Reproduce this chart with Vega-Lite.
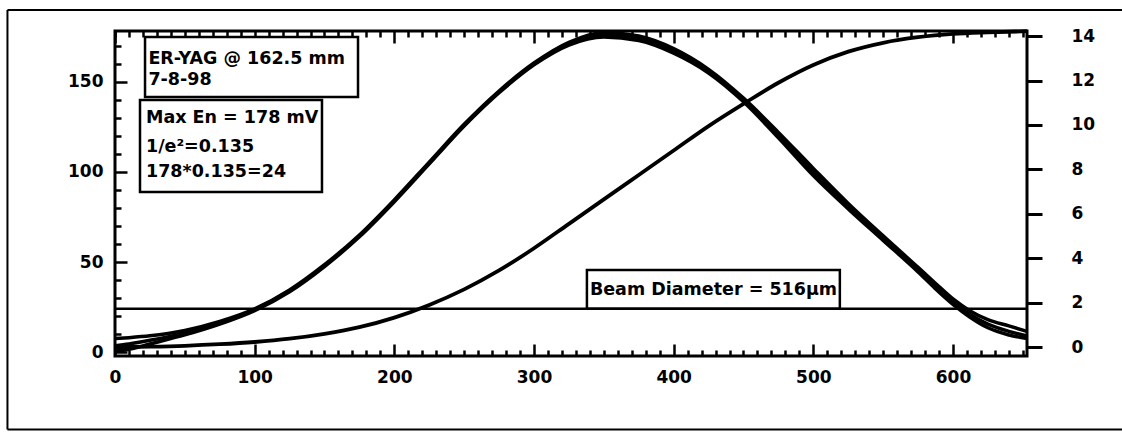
{
  "$schema": "https://vega.github.io/schema/vega-lite/v6.json",
  "width": 912,
  "height": 325,
  "autosize": {"type": "none"},
  "padding": {"left": 115, "top": 31, "right": 95, "bottom": 76},
  "background": "white",
  "config": {
    "view": {"stroke": "black", "strokeWidth": 3},
    "font": "DejaVu Sans",
    "axis": {"domain": false, "grid": false, "tickColor": "black", "tickWidth": 2.5, "labelColor": "black", "labelFont": "DejaVu Sans", "labelFontWeight": "bold", "labelFontSize": 17, "labelFlush": false, "title": null}
  },
  "data": {"values": [{}]},
  "datasets": {
    "gauss": [
      {"x": 0, "trace": "T1", "v": 7.5}, {"x": 10, "trace": "T1", "v": 8}, {"x": 25, "trace": "T1", "v": 9}, {"x": 50, "trace": "T1", "v": 12}, {"x": 75, "trace": "T1", "v": 17}, {"x": 100, "trace": "T1", "v": 24}, {"x": 125, "trace": "T1", "v": 34.5}, {"x": 150, "trace": "T1", "v": 48.5}, {"x": 175, "trace": "T1", "v": 65}, {"x": 200, "trace": "T1", "v": 84.5}, {"x": 225, "trace": "T1", "v": 105.5}, {"x": 250, "trace": "T1", "v": 126.5}, {"x": 275, "trace": "T1", "v": 145}, {"x": 300, "trace": "T1", "v": 160.5}, {"x": 325, "trace": "T1", "v": 172}, {"x": 350, "trace": "T1", "v": 177.5}, {"x": 375, "trace": "T1", "v": 175.5}, {"x": 400, "trace": "T1", "v": 168.5}, {"x": 425, "trace": "T1", "v": 157}, {"x": 450, "trace": "T1", "v": 141}, {"x": 475, "trace": "T1", "v": 122}, {"x": 500, "trace": "T1", "v": 102}, {"x": 525, "trace": "T1", "v": 82.5}, {"x": 550, "trace": "T1", "v": 64.5}, {"x": 575, "trace": "T1", "v": 47}, {"x": 587, "trace": "T1", "v": 38.5}, {"x": 600, "trace": "T1", "v": 29.5}, {"x": 612, "trace": "T1", "v": 23}, {"x": 625, "trace": "T1", "v": 18}, {"x": 640, "trace": "T1", "v": 14.5}, {"x": 653, "trace": "T1", "v": 11.5},
      {"x": 0, "trace": "T2", "v": 3.5}, {"x": 10, "trace": "T2", "v": 4.5}, {"x": 25, "trace": "T2", "v": 6.5}, {"x": 50, "trace": "T2", "v": 10.5}, {"x": 75, "trace": "T2", "v": 16}, {"x": 100, "trace": "T2", "v": 23.5}, {"x": 125, "trace": "T2", "v": 34}, {"x": 150, "trace": "T2", "v": 48}, {"x": 175, "trace": "T2", "v": 64.5}, {"x": 200, "trace": "T2", "v": 84}, {"x": 225, "trace": "T2", "v": 105}, {"x": 250, "trace": "T2", "v": 126}, {"x": 275, "trace": "T2", "v": 144.5}, {"x": 300, "trace": "T2", "v": 160}, {"x": 325, "trace": "T2", "v": 171.5}, {"x": 350, "trace": "T2", "v": 176}, {"x": 375, "trace": "T2", "v": 174.5}, {"x": 400, "trace": "T2", "v": 167.5}, {"x": 425, "trace": "T2", "v": 156}, {"x": 450, "trace": "T2", "v": 140}, {"x": 475, "trace": "T2", "v": 120.5}, {"x": 500, "trace": "T2", "v": 100}, {"x": 525, "trace": "T2", "v": 81}, {"x": 550, "trace": "T2", "v": 63}, {"x": 575, "trace": "T2", "v": 45.5}, {"x": 587, "trace": "T2", "v": 36.5}, {"x": 600, "trace": "T2", "v": 27.5}, {"x": 612, "trace": "T2", "v": 21}, {"x": 625, "trace": "T2", "v": 15.5}, {"x": 640, "trace": "T2", "v": 11.5}, {"x": 653, "trace": "T2", "v": 9},
      {"x": 0, "trace": "T3", "v": 0.5}, {"x": 10, "trace": "T3", "v": 1.5}, {"x": 25, "trace": "T3", "v": 4.5}, {"x": 50, "trace": "T3", "v": 9.5}, {"x": 75, "trace": "T3", "v": 15.5}, {"x": 100, "trace": "T3", "v": 23}, {"x": 125, "trace": "T3", "v": 33.5}, {"x": 150, "trace": "T3", "v": 47.5}, {"x": 175, "trace": "T3", "v": 64}, {"x": 200, "trace": "T3", "v": 83.5}, {"x": 225, "trace": "T3", "v": 104.5}, {"x": 250, "trace": "T3", "v": 125.5}, {"x": 275, "trace": "T3", "v": 144}, {"x": 300, "trace": "T3", "v": 159.5}, {"x": 325, "trace": "T3", "v": 170.5}, {"x": 350, "trace": "T3", "v": 175}, {"x": 375, "trace": "T3", "v": 173}, {"x": 400, "trace": "T3", "v": 166}, {"x": 425, "trace": "T3", "v": 155}, {"x": 450, "trace": "T3", "v": 139}, {"x": 475, "trace": "T3", "v": 119}, {"x": 500, "trace": "T3", "v": 98}, {"x": 525, "trace": "T3", "v": 79.5}, {"x": 550, "trace": "T3", "v": 62}, {"x": 575, "trace": "T3", "v": 44.5}, {"x": 587, "trace": "T3", "v": 35.5}, {"x": 600, "trace": "T3", "v": 26.5}, {"x": 612, "trace": "T3", "v": 19.5}, {"x": 625, "trace": "T3", "v": 13.5}, {"x": 640, "trace": "T3", "v": 9.5}, {"x": 653, "trace": "T3", "v": 7.5}
    ],
    "integral": [
      {"x": 0, "r": 0}, {"x": 25, "r": 0.02}, {"x": 50, "r": 0.06}, {"x": 75, "r": 0.13}, {"x": 100, "r": 0.23}, {"x": 125, "r": 0.38}, {"x": 150, "r": 0.6}, {"x": 175, "r": 0.9}, {"x": 200, "r": 1.33}, {"x": 225, "r": 1.9}, {"x": 250, "r": 2.6}, {"x": 275, "r": 3.45}, {"x": 300, "r": 4.45}, {"x": 325, "r": 5.55}, {"x": 350, "r": 6.65}, {"x": 375, "r": 7.75}, {"x": 400, "r": 8.85}, {"x": 425, "r": 9.95}, {"x": 450, "r": 10.95}, {"x": 475, "r": 11.9}, {"x": 500, "r": 12.7}, {"x": 525, "r": 13.3}, {"x": 550, "r": 13.7}, {"x": 575, "r": 13.95}, {"x": 600, "r": 14.1}, {"x": 625, "r": 14.17}, {"x": 653, "r": 14.22}
    ]
  },
  "layer": [
    {
      "mark": {"type": "rule", "color": "black", "strokeWidth": 2, "clip": false},
      "encoding": {
        "x": {"datum": -77, "type": "quantitative", "scale": {"domain": [0, 653], "nice": false, "zero": false},
          "axis": {"orient": "top", "values": [0,10,20,30,40,50,60,70,80,90,110,120,130,140,150,160,170,180,190,210,220,230,240,250,260,270,280,290,310,320,330,340,350,360,370,380,390,410,420,430,440,450,460,470,480,490,510,520,530,540,550,560,570,580,590,610,620,630,640,650], "tickSize": 6, "offset": -6, "labels": false}},
        "x2": {"datum": 780},
        "y": {"datum": 190, "type": "quantitative", "scale": {"domain": [-2.2, 178.3], "nice": false, "zero": false}, "axis": null}
      }
    },
    {
      "mark": {"type": "rule", "color": "black", "strokeWidth": 2, "clip": false},
      "encoding": {
        "x": {"datum": -77, "type": "quantitative", "scale": {"domain": [0, 653], "nice": false, "zero": false}, "axis": null},
        "x2": {"datum": 780},
        "y": {"datum": -43, "type": "quantitative", "scale": {"domain": [-2.2, 178.3], "nice": false, "zero": false}, "axis": null}
      }
    },
    {
      "mark": {"type": "rule", "color": "black", "strokeWidth": 2, "clip": false},
      "encoding": {
        "x": {"datum": -77, "type": "quantitative", "scale": {"domain": [0, 653], "nice": false, "zero": false}, "axis": null},
        "y": {"datum": 190, "type": "quantitative", "scale": {"domain": [-2.2, 178.3], "nice": false, "zero": false}, "axis": null},
        "y2": {"datum": -43}
      }
    },
    {
      "mark": {"type": "rect", "fill": "white", "stroke": "black", "strokeWidth": 2.5},
      "encoding": {
        "x": {"datum": 21.5, "type": "quantitative", "scale": {"domain": [0, 653], "nice": false, "zero": false}, "axis": null},
        "x2": {"datum": 174},
        "y": {"datum": 175, "type": "quantitative", "scale": {"domain": [-2.2, 178.3], "nice": false, "zero": false}, "axis": null},
        "y2": {"datum": 141.7}
      }
    },
    {
      "mark": {"type": "rect", "fill": "white", "stroke": "black", "strokeWidth": 2.5},
      "encoding": {
        "x": {"datum": 17.9, "type": "quantitative", "scale": {"domain": [0, 653], "nice": false, "zero": false}, "axis": null},
        "x2": {"datum": 148.2},
        "y": {"datum": 140, "type": "quantitative", "scale": {"domain": [-2.2, 178.3], "nice": false, "zero": false}, "axis": null},
        "y2": {"datum": 88.9}
      }
    },
    {
      "mark": {"type": "rect", "fill": "white", "stroke": "black", "strokeWidth": 2.5},
      "encoding": {
        "x": {"datum": 337.9, "type": "quantitative", "scale": {"domain": [0, 653], "nice": false, "zero": false}, "axis": null},
        "x2": {"datum": 519},
        "y": {"datum": 45.6, "type": "quantitative", "scale": {"domain": [-2.2, 178.3], "nice": false, "zero": false}, "axis": null},
        "y2": {"datum": 24}
      }
    },
    {
      "mark": {"type": "rule", "color": "black", "strokeWidth": 2.5},
      "encoding": {
        "x": {"datum": 0, "type": "quantitative", "scale": {"domain": [0, 653], "nice": false, "zero": false},
          "axis": {"orient": "top", "values": [0,100,200,300,400,500,600], "tickSize": 12, "offset": -12, "labels": false}},
        "x2": {"datum": 653},
        "y": {"datum": 24, "type": "quantitative", "scale": {"domain": [-2.2, 178.3], "nice": false, "zero": false},
          "axis": {"orient": "left", "values": [10,20,30,40,60,70,80,90,110,120,130,140,160,170], "tickSize": 6, "offset": -6, "labels": false}}
      }
    },
    {
      "data": {"name": "gauss"},
      "mark": {"type": "line", "color": "black", "strokeWidth": 3.5, "interpolate": "monotone"},
      "encoding": {
        "x": {"field": "x", "type": "quantitative", "scale": {"domain": [0, 653], "nice": false, "zero": false},
          "axis": {"orient": "bottom", "values": [0,100,200,300,400,500,600], "tickSize": 12, "offset": -12, "labelPadding": 13}},
        "y": {"field": "v", "type": "quantitative", "scale": {"domain": [-2.2, 178.3], "nice": false, "zero": false},
          "axis": {"orient": "left", "values": [0,50,100,150], "tickSize": 12, "offset": -12, "labelPadding": 12}},
        "detail": {"field": "trace"}
      }
    },
    {
      "data": {"name": "integral"},
      "mark": {"type": "line", "color": "black", "strokeWidth": 3.8, "interpolate": "monotone"},
      "encoding": {
        "x": {"field": "x", "type": "quantitative", "scale": {"domain": [0, 653], "nice": false, "zero": false},
          "axis": {"orient": "bottom", "values": [0,10,20,30,40,50,60,70,80,90,110,120,130,140,150,160,170,180,190,210,220,230,240,250,260,270,280,290,310,320,330,340,350,360,370,380,390,410,420,430,440,450,460,470,480,490,510,520,530,540,550,560,570,580,590,610,620,630,640,650], "tickSize": 6, "offset": -6, "labels": false}},
        "y": {"field": "r", "type": "quantitative", "scale": {"domain": [-0.4, 14.23], "nice": false, "zero": false},
          "axis": {"orient": "right", "values": [0,2,4,6,8,10,12,14], "tickSize": 15, "tickWidth": 3, "labelPadding": 29}}
      }
    },
    {
      "mark": {"type": "text", "align": "left", "baseline": "middle", "font": "DejaVu Sans", "fontWeight": "bold", "fontSize": 17.5, "color": "black"},
      "encoding": {
        "x": {"datum": 23.9, "type": "quantitative", "scale": {"domain": [0, 653], "nice": false, "zero": false}, "axis": null},
        "y": {"datum": 162.8, "type": "quantitative", "scale": {"domain": [-2.2, 178.3], "nice": false, "zero": false}, "axis": null},
        "text": {"value": "ER-YAG @ 162.5 mm"}
      }
    },
    {
      "mark": {"type": "text", "align": "left", "baseline": "middle", "font": "DejaVu Sans", "fontWeight": "bold", "fontSize": 17.5, "color": "black"},
      "encoding": {
        "x": {"datum": 23.9, "type": "quantitative", "scale": {"domain": [0, 653], "nice": false, "zero": false}, "axis": null},
        "y": {"datum": 151.1, "type": "quantitative", "scale": {"domain": [-2.2, 178.3], "nice": false, "zero": false}, "axis": null},
        "text": {"value": "7-8-98"}
      }
    },
    {
      "mark": {"type": "text", "align": "left", "baseline": "middle", "font": "DejaVu Sans", "fontWeight": "bold", "fontSize": 17.5, "color": "black"},
      "encoding": {
        "x": {"datum": 22.2, "type": "quantitative", "scale": {"domain": [0, 653], "nice": false, "zero": false}, "axis": null},
        "y": {"datum": 130, "type": "quantitative", "scale": {"domain": [-2.2, 178.3], "nice": false, "zero": false}, "axis": null},
        "text": {"value": "Max En = 178 mV"}
      }
    },
    {
      "mark": {"type": "text", "align": "left", "baseline": "middle", "font": "DejaVu Sans", "fontWeight": "bold", "fontSize": 17.5, "color": "black"},
      "encoding": {
        "x": {"datum": 22.2, "type": "quantitative", "scale": {"domain": [0, 653], "nice": false, "zero": false}, "axis": null},
        "y": {"datum": 113.9, "type": "quantitative", "scale": {"domain": [-2.2, 178.3], "nice": false, "zero": false}, "axis": null},
        "text": {"value": "1/e²=0.135"}
      }
    },
    {
      "mark": {"type": "text", "align": "left", "baseline": "middle", "font": "DejaVu Sans", "fontWeight": "bold", "fontSize": 17.5, "color": "black"},
      "encoding": {
        "x": {"datum": 22.2, "type": "quantitative", "scale": {"domain": [0, 653], "nice": false, "zero": false}, "axis": null},
        "y": {"datum": 100, "type": "quantitative", "scale": {"domain": [-2.2, 178.3], "nice": false, "zero": false}, "axis": null},
        "text": {"value": "178*0.135=24"}
      }
    },
    {
      "mark": {"type": "text", "align": "center", "baseline": "middle", "font": "DejaVu Sans", "fontWeight": "bold", "fontSize": 17.5, "color": "black"},
      "encoding": {
        "x": {"datum": 428.5, "type": "quantitative", "scale": {"domain": [0, 653], "nice": false, "zero": false}, "axis": null},
        "y": {"datum": 34.4, "type": "quantitative", "scale": {"domain": [-2.2, 178.3], "nice": false, "zero": false}, "axis": null},
        "text": {"value": "Beam Diameter = 516µm"}
      }
    }
  ],
  "resolve": {"scale": {"y": "independent"}, "axis": {"x": "independent", "y": "independent"}}
}
